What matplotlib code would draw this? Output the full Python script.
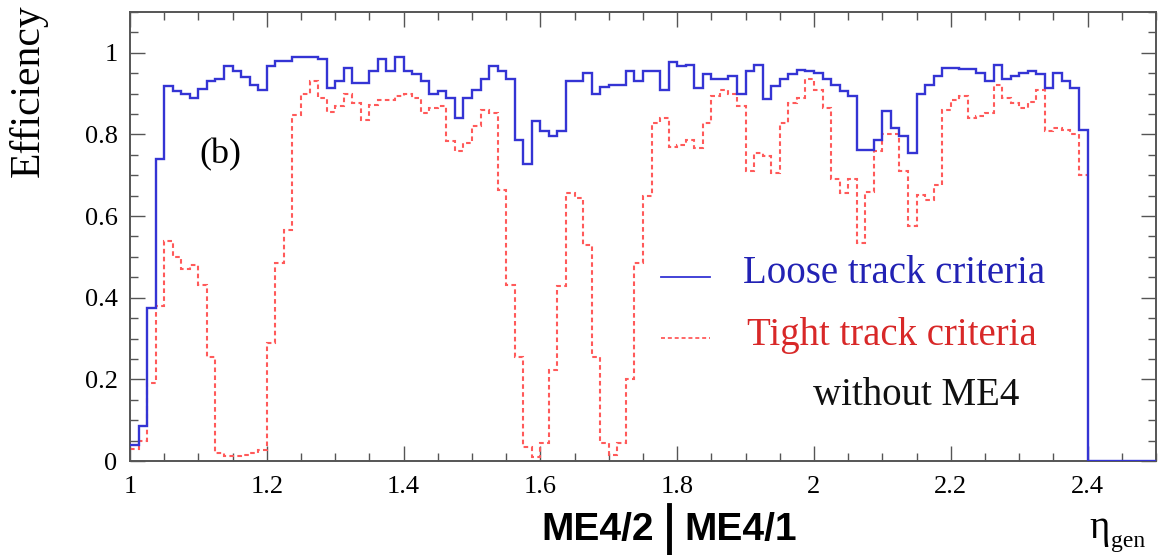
import numpy as np
import matplotlib
matplotlib.use("Agg")
import matplotlib.pyplot as plt
from matplotlib.lines import Line2D

# ---------------- data ----------------
bin_start = 1.0
bin_width = 0.0125
n_bins = 120

loose = [0.04, 0.086, 0.374, 0.74, 0.918, 0.906, 0.90, 0.89, 0.912, 0.93,
         0.935, 0.967, 0.955, 0.94, 0.92, 0.91,
         0.967, 0.98, 0.98, 0.99, 0.99, 0.99, 0.985, 0.914, 0.93, 0.963,
         0.926, 0.926, 0.955, 0.984, 0.955, 0.99,
         0.955, 0.947, 0.93, 0.90, 0.906, 0.89, 0.84, 0.89, 0.91, 0.935,
         0.967, 0.955, 0.935, 0.787, 0.728, 0.832,
         0.808, 0.795, 0.808, 0.93, 0.93, 0.95, 0.898, 0.917, 0.92, 0.92,
         0.955, 0.93, 0.955, 0.955, 0.91, 0.977,
         0.967, 0.971, 0.914, 0.947, 0.935, 0.935, 0.943, 0.898, 0.955, 0.971,
         0.886, 0.918, 0.935, 0.947, 0.959, 0.955,
         0.95, 0.935, 0.922, 0.906, 0.894, 0.763, 0.763, 0.787, 0.857, 0.816,
         0.796, 0.755, 0.90, 0.92, 0.943, 0.963,
         0.963, 0.96, 0.96, 0.95, 0.93, 0.971, 0.935, 0.943, 0.95, 0.955,
         0.947, 0.914, 0.95, 0.93, 0.914, 0.812,
         0, 0, 0, 0, 0, 0, 0, 0]

tight = [0.03, 0.05, 0.19, 0.38, 0.54, 0.50, 0.47, 0.48, 0.43, 0.256,
         0.02, 0.012, 0.012, 0.015, 0.02, 0.027,
         0.29, 0.485, 0.567, 0.848, 0.898, 0.93, 0.89, 0.855, 0.87, 0.90,
         0.877, 0.836, 0.873, 0.885, 0.885, 0.893,
         0.898, 0.89, 0.853, 0.865, 0.87, 0.783, 0.76, 0.78, 0.82, 0.86,
         0.853, 0.665, 0.43, 0.256, 0.035, 0.01,
         0.043, 0.223, 0.428, 0.657, 0.645, 0.53, 0.256, 0.043, 0.015, 0.043,
         0.2, 0.485, 0.65, 0.828, 0.84, 0.77,
         0.775, 0.787, 0.767, 0.828, 0.894, 0.91, 0.898, 0.87, 0.71, 0.755,
         0.747, 0.705, 0.828, 0.877, 0.89, 0.935,
         0.91, 0.865, 0.69, 0.657, 0.69, 0.535, 0.66, 0.76, 0.80, 0.80,
         0.71, 0.575, 0.652, 0.64, 0.677, 0.86,
         0.885, 0.893, 0.84, 0.845, 0.853, 0.922, 0.89, 0.877, 0.865, 0.88,
         0.91, 0.808, 0.815, 0.81, 0.80, 0.70]

x_ticks = [1.0, 1.2, 1.4, 1.6, 1.8, 2.0, 2.2, 2.4]
x_tick_labels = ["1", "1.2", "1.4", "1.6", "1.8", "2", "2.2", "2.4"]
y_ticks = [0, 0.2, 0.4, 0.6, 0.8, 1.0]
y_tick_labels = ["0", "0.2", "0.4", "0.6", "0.8", "1"]

label_loose = "Loose track criteria"
label_tight = "Tight track criteria"
note = "without ME4"
panel = "(b)"
ylabel = "Efficiency"
xlabel_main = "η"
xlabel_sub = "gen"
region_left = "ME4/2"
region_right = "ME4/1"

# ---------------- style ----------------
plt.rcParams['font.family'] = ['Liberation Serif', 'DejaVu Serif']

BLUE = '#3434d4'
RED = '#ff5a5a'
FRAME = '#555555'

W, H = 1158, 555
fig = plt.figure(figsize=(W / 100, H / 100), dpi=100)
ax = fig.add_axes([130 / W, 1 - 461 / H, 1026 / W, 449 / H])

edges_all = bin_start + bin_width * np.arange(n_bins + 1)
edges_tight = edges_all[:len(tight) + 1]

ax.stairs(tight, edges_tight, baseline=None, color=RED, lw=1.5,
          linestyle=(0, (2.2, 1.6)), zorder=2)
ax.stairs(loose, edges_all, baseline=None, color=BLUE, lw=1.7, zorder=3)

ax.set_xlim(1.0, 2.5)
ax.set_ylim(0, 1.1)

ax.set_xticks(x_ticks)
ax.set_xticklabels(x_tick_labels)
ax.set_yticks(y_ticks)
ax.set_yticklabels(y_tick_labels)
ax.set_xticks(np.arange(1.0, 2.501, 0.05), minor=True)
ax.set_yticks(np.arange(0, 1.101, 0.05), minor=True)

ax.tick_params(which='both', direction='in', top=True, right=True,
               color=FRAME, width=1.0)
ax.tick_params(which='major', length=11, labelsize=19)
ax.tick_params(which='minor', length=6)
ax.tick_params(axis='x', which='major', pad=11)
ax.tick_params(axis='y', which='major', pad=9)
for s in ax.spines.values():
    s.set_color(FRAME)
    s.set_linewidth(1.4)

# y label at top-left (ROOT style)
fig.text(28 / W, 1 - 4 / H, ylabel, rotation=90, ha='center', va='top',
         fontsize=30)

# x label eta_gen (upright eta with subscript)
fig.text(1110 / W, 1 - 538 / H, xlabel_main, ha='right', va='baseline',
         fontsize=28)
fig.text(1111 / W, 1 - 547 / H, xlabel_sub, ha='left', va='baseline',
         fontsize=17)

# panel label
ax.text(0.068, 0.664, panel, transform=ax.transAxes, fontsize=26,
        ha='left', va='baseline')

# legend-like annotations
ax.add_line(Line2D([0.518, 0.565], [0.41, 0.41], transform=ax.transAxes,
                   color=BLUE, lw=1.3))
ax.text(0.597, 0.396, label_loose, transform=ax.transAxes, color='#2222b4',
        fontsize=28, ha='left', va='baseline')
ax.add_line(Line2D([0.518, 0.565], [0.274, 0.274], transform=ax.transAxes,
                   color=RED, lw=1.3, linestyle=(0, (2.2, 1.6))))
ax.text(0.601, 0.258, label_tight, transform=ax.transAxes, color='#d82828',
        fontsize=28, ha='left', va='baseline')
ax.text(0.666, 0.125, note, transform=ax.transAxes, color='#111111',
        fontsize=28, ha='left', va='baseline')

# region labels under the axis
sans_bold = ['Liberation Sans Narrow', 'Liberation Sans', 'DejaVu Sans']
fig.text(654 / W, 1 - 530 / H, region_left, ha='right', va='center',
         fontsize=28, fontweight='bold', family=sans_bold)
fig.text(684 / W, 1 - 530 / H, region_right, ha='left', va='center',
         fontsize=28, fontweight='bold', family=sans_bold)
fig.add_artist(Line2D([669 / W, 669 / W], [1 - 553 / H, 1 - 505 / H],
                      transform=fig.transFigure, color='black', lw=3.5))

fig.savefig('out.png', dpi=100)
